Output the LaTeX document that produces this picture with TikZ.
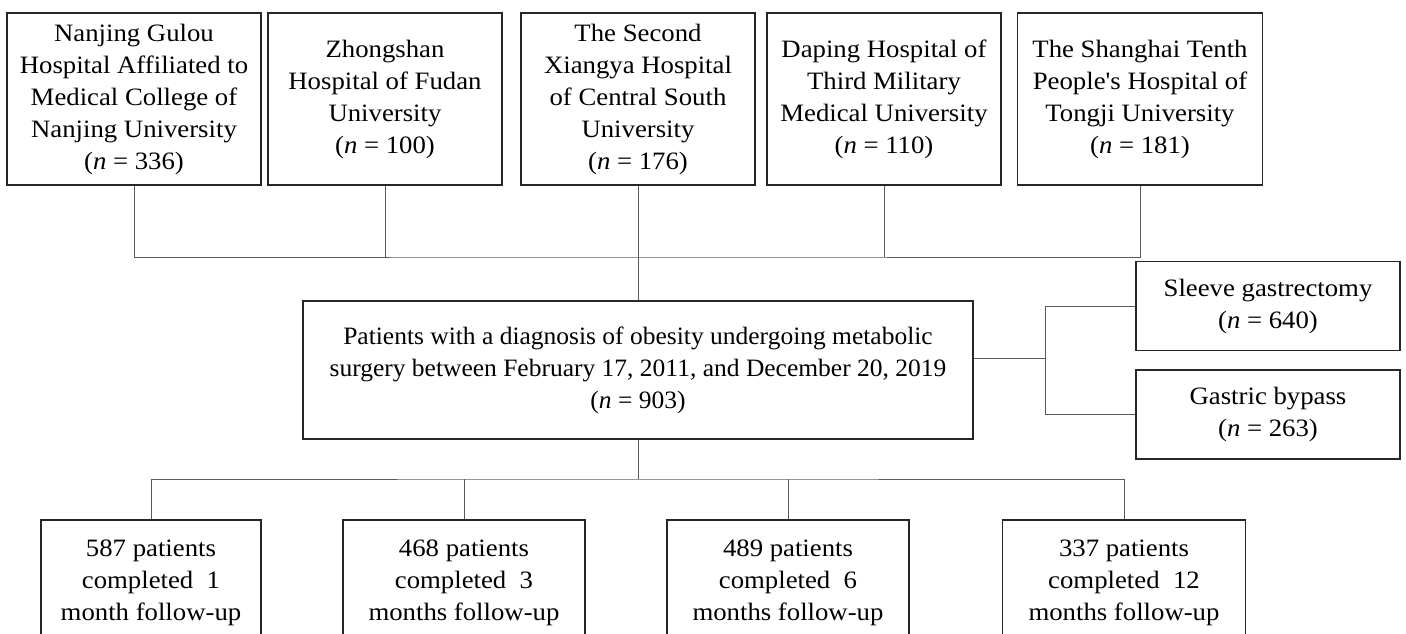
\documentclass[tikz,border=0pt]{standalone}
\usepackage{fontspec}
\setmainfont{Liberation Serif}[FakeStretch=1.07,Ligatures=TeXOff]
\newfontfamily\cohortfont{Liberation Serif}[FakeStretch=1.02,Ligatures=TeXOff]
\usetikzlibrary{positioning}
\definecolor{boxline}{HTML}{262626}
\definecolor{linkline}{HTML}{5A5A5A}
\tikzset{
    %Define style for boxes
    site/.style={
   	rectangle,
   	draw=boxline, line width=1.6pt,
   	minimum width=234pt,
   	minimum height=172pt,
   	inner sep=2pt,
   	align=center,
   	font=\fontsize{25}{32}\selectfont
   },
   cohort/.style={
   	site,
   	minimum width=670pt,
   	minimum height=138pt,
   	font=\cohortfont\fontsize{25}{32}\selectfont
   },
   surgery/.style={
   	site,
   	minimum width=264pt,
   	minimum height=89pt
   },
   followup/.style={
   	site,
   	minimum width=242pt,
   	minimum height=126pt
   },
    % Define connector style
    link/.style={
           draw=linkline,
           line width=1pt}
}
\begin{document}
\begin{tikzpicture}[x=1pt,y=-1pt]
		\clip (0,0) rectangle (1406,634);
		%nodes
		\node[site,minimum width=254pt](h1) at (134,99){Nanjing Gulou\\Hospital Affiliated to\\Medical College of\\Nanjing University\\(\textit{n} = 336)};
		\node[site](h2) at (385,99){Zhongshan\\Hospital of Fudan\\University\\(\textit{n} = 100)};
		\node[site](h3) at (638,99){The Second\\Xiangya Hospital\\of Central South\\University\\(\textit{n} = 176)};
		\node[site](h4) at (884,99){Daping Hospital of\\Third Military\\Medical University\\(\textit{n} = 110)};
		\node[site,minimum width=245pt](h5) at (1140,99){The Shanghai Tenth\\People's Hospital of\\Tongji University\\(\textit{n} = 181)};
		\node[cohort](main) at (638,370){Patients with a diagnosis of obesity undergoing metabolic\\surgery between February 17, 2011, and December 20, 2019\\(\textit{n} = 903)};
		\node[surgery](sg) at (1268,306){Sleeve gastrectomy\\(\textit{n} = 640)};
		\node[surgery,below=18pt of sg](gb){Gastric bypass\\(\textit{n} = 263)};
		\node[followup,minimum width=220pt](f1) at (151,583){587 patients\\completed\ \ 1\\month follow-up};
		\node[followup](f2) at (464,583){468 patients\\completed\ \ 3\\months follow-up};
		\node[followup](f3) at (788,583){489 patients\\completed\ \ 6\\months follow-up};
		\node[followup,minimum width=243pt](f4) at (1124,583){337 patients\\completed\ \ 12\\months follow-up};
		%connectors
		\coordinate (topbus) at (638,257);
		\coordinate (fork) at (1045,358);
		\coordinate (lowbus) at (638,479);
		\draw[link] (h1.south) |- (topbus) -| (h5.south);
		\draw[link] (h2.south) -- (h2.south |- topbus);
		\draw[link] (h4.south) -- (h4.south |- topbus);
		\draw[link] (h3.south) -- (main.north);
		\draw[link] (main.east |- fork) -- (fork);
		\draw[link] (sg.west) -| (fork) |- (gb.west);
		\draw[link] (main.south) -- (lowbus);
		\draw[link] (f1.north) |- (lowbus) -| (f4.north);
		\draw[link] (f2.north) -- (f2.north |- lowbus);
		\draw[link] (f3.north) -- (f3.north |- lowbus);
		\end{tikzpicture}
\end{document}
